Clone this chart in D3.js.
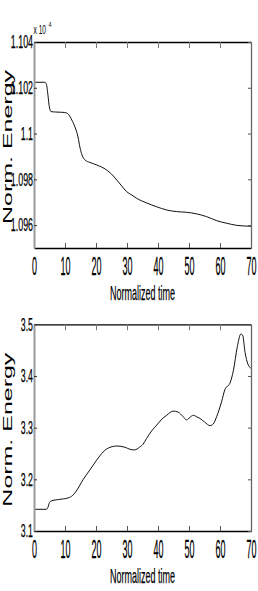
<!DOCTYPE html>
<html><head><meta charset="utf-8">
<script src="https://cdn.jsdelivr.net/npm/d3@7"></script>
<style>body{margin:0;background:#fff}svg{display:block}</style></head><body>
<script>
const xTicks = [0,10,20,30,40,50,60,70];
const xLabel = "Normalized time";
const yLabel = "Norm. Energy";

const time1 = [0,3.5,4.0,4.5,5.0,5.5,7,9,10.5,11.5,12.2,13.2,14.2,14.8,15.5,16.5,18,20.2,23.4,25,26.7,28.3,29.9,31.5,33,36.3,39.6,42.8,46,49.2,52.5,55.7,59,62.2,65.4,70];
const energy1 = [11022.4,11022.4,11021.6,11016.8,11011.2,11009.6,11009.4,11009.3,11009.0,11007.7,11005.9,11002.9,10998.5,10994.1,10990.6,10988.4,10987.4,10986.3,10984.1,10982.3,10979.7,10977.1,10974.6,10973.2,10971.8,10969.7,10968.0,10966.6,10965.9,10965.6,10964.9,10963.7,10961.9,10960.8,10959.9,10959.5];
const yDomain1 = [10950, 11040];
const yTicks1 = [10960,10980,11000,11020,11040];
const yTickLabels1 = ["1.096","1.098","1.1","1.102","1.104"];
const expBase = "x 10", expPow = "4";

const time2 = [0,4.0,4.5,5.0,5.5,8,11,12.5,13.5,15.8,18,20.2,22.3,24.5,26.7,29.4,31,32.5,34,35.2,36.3,38,39.6,41,42.8,44.9,46.5,48,49.2,50.3,51.4,52.5,53.5,55,56.8,57.8,58.9,60.5,61.6,63.2,64.3,65.6,66.7,67.3,68.1,69.0,70];
const energy2 = [3.142,3.142,3.146,3.155,3.158,3.161,3.164,3.169,3.176,3.199,3.218,3.237,3.253,3.262,3.2645,3.262,3.258,3.257,3.262,3.268,3.279,3.294,3.305,3.315,3.324,3.332,3.330,3.322,3.315,3.320,3.324,3.321,3.318,3.311,3.304,3.307,3.321,3.350,3.374,3.386,3.410,3.457,3.481,3.479,3.445,3.423,3.415];
const yDomain2 = [3.1, 3.5];
const yTicks2 = [3.1,3.2,3.3,3.4,3.5];
const yTickLabels2 = ["3.1","3.2","3.3","3.4","3.5"];

const FONT = "'Liberation Sans', Arial, sans-serif";
const W = 258, H = 591;
const svg = d3.select("body").append("svg").attr("width", W).attr("height", H);

function txtW(s) { let w = 0; for (const c of s) w += (c === "." ? 2.2 : 5); return w; }

function panel(top, bottom, times, vals, ydom, yticks, ylabels, exp) {
  const left = 34, right = 251;
  const x = d3.scaleLinear().domain([0,70]).range([left, right]);
  const y = d3.scaleLinear().domain(ydom).range([bottom, top]);
  const g = svg.append("g");

  g.append("path")
    .datum(times.map((t,i)=>[t, vals[i]]))
    .attr("fill","none").attr("stroke","#111").attr("stroke-width",1)
    .attr("d", d3.line().x(d=>x(d[0])).y(d=>y(d[1])).curve(d3.curveMonotoneX));

  const gb = g.append("g").attr("transform",`translate(0,${bottom})`)
    .call(d3.axisBottom(x).tickValues(xTicks).tickSize(-5).tickSizeOuter(0).tickPadding(9).tickFormat(d3.format("d")));
  gb.select(".domain").attr("stroke","#000").attr("stroke-width",1.3);
  gb.selectAll(".tick line").attr("stroke","#555");
  gb.selectAll("text").attr("font-family",FONT).attr("font-size",25).attr("fill","#000")
    .attr("stroke","#000").attr("stroke-width",0.3)
    .each(function(){ const s=this.textContent; d3.select(this).attr("textLength", txtW(s)).attr("lengthAdjust","spacingAndGlyphs"); });

  const gt = g.append("g").attr("transform",`translate(0,${top})`)
    .call(d3.axisTop(x).tickValues(xTicks).tickSize(-6).tickSizeOuter(0).tickFormat(""));
  gt.select(".domain").attr("stroke","#000").attr("stroke-width",1.3);
  gt.selectAll(".tick line").attr("stroke","#777");

  const gl = g.append("g").attr("transform",`translate(${left},0)`)
    .call(d3.axisLeft(y).tickValues(yticks).tickSize(-3).tickSizeOuter(0).tickPadding(1).tickFormat((d,i)=>ylabels[i]));
  gl.select(".domain").attr("stroke","#999").attr("stroke-width",2);
  gl.selectAll(".tick line").attr("stroke","#333");
  gl.selectAll("text").attr("font-family",FONT).attr("font-size",18).attr("fill","#000")
    .attr("stroke","#000").attr("stroke-width",0.25)
    .each(function(){ const s=this.textContent; d3.select(this).attr("textLength", txtW(s)).attr("lengthAdjust","spacingAndGlyphs"); });

  const gr = g.append("g").attr("transform",`translate(${right},0)`)
    .call(d3.axisRight(y).tickValues(yticks).tickSize(-3).tickSizeOuter(0).tickFormat(""));
  gr.select(".domain").attr("stroke","#666").attr("stroke-width",1.3);
  gr.selectAll(".tick line").attr("stroke","#555");

  g.append("text").attr("x",(left+right)/2).attr("y",bottom+51.5)
    .attr("text-anchor","middle").attr("font-family",FONT).attr("font-size",21)
    .attr("stroke","#000").attr("stroke-width",0.25)
    .attr("textLength",65).attr("lengthAdjust","spacingAndGlyphs").text(xLabel);

  g.append("text").attr("transform",`translate(12,${(top+bottom)/2+2}) rotate(-90)`)
    .attr("text-anchor","middle").attr("font-family",FONT).attr("font-size",12.5)
    .attr("textLength",154).attr("lengthAdjust","spacingAndGlyphs").text(yLabel);

  if (exp) {
    g.append("text").attr("x",33.5).attr("y",top-8).attr("font-family",FONT).attr("font-size",13)
      .attr("textLength",12.5).attr("lengthAdjust","spacingAndGlyphs").text(exp[0]);
    g.append("text").attr("x",48.5).attr("y",top-15).attr("font-family",FONT).attr("font-size",8)
      .attr("textLength",3).attr("lengthAdjust","spacingAndGlyphs").text(exp[1]);
  }
}

panel(42, 248, time1, energy1, yDomain1, yTicks1, yTickLabels1, [expBase, expPow]);
panel(324.3, 531, time2, energy2, yDomain2, yTicks2, yTickLabels2, null);
</script>
</body></html>
